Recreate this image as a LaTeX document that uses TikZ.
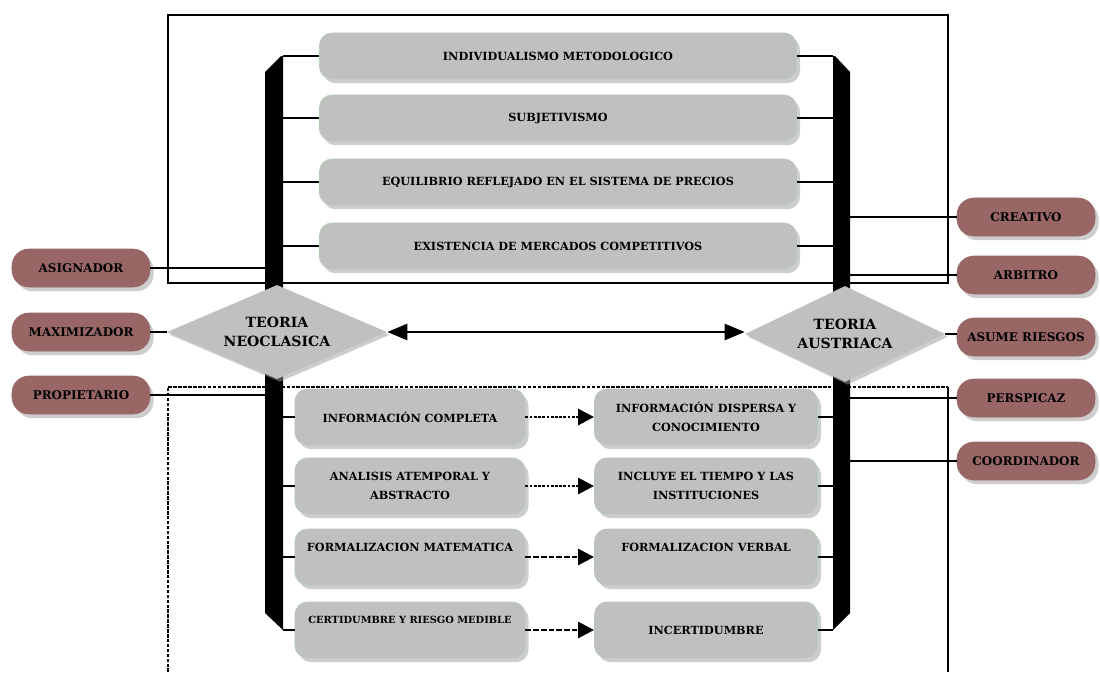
\documentclass[tikz,border=0pt]{standalone}
\usepackage{fontspec}
\setmainfont{DejaVu Serif}
\usetikzlibrary{arrows.meta, shapes.geometric, shadows}
\definecolor{boxgray}{HTML}{C0C0C0}
\definecolor{boxedge}{HTML}{B4CCB4}
\definecolor{pillred}{HTML}{996666}
\definecolor{shadowgray}{HTML}{9C9C9C}
\tikzset{
  softshadow/.style={drop shadow={shadow xshift=2.5pt, shadow yshift=-3pt, fill=shadowgray}},
  ideabox/.style={fill=boxgray, draw=boxedge, line width=0.6pt, rounded corners=9pt,
    align=center, softshadow, font=\fontsize{8}{14}\selectfont\bfseries},
  pill/.style={fill=pillred, draw=pillred, rounded corners=12pt, minimum width=3.45cm,
    minimum height=0.95cm, softshadow, font=\fontsize{8.5}{10}\selectfont\bfseries},
  theory/.style={diamond, aspect=2.3, inner sep=0pt, fill=boxgray, align=center,
    drop shadow={shadow xshift=2pt, shadow yshift=-2pt, fill=shadowgray},
    font=\fontsize{10}{13}\selectfont\bfseries},
  link/.style={line width=1.2pt},
  outline/.style={line width=1.7pt},
  dasharrow/.style={-{Triangle[length=4mm, width=4mm]}, line width=2pt, dash pattern=on 4pt off 1.5pt}
}
\newcommand{\rolepill}[4]{%
  \node[pill] (#1) at (#2,#3) {#4};}

\begin{document}
\begin{tikzpicture}[x=0.025cm, y=-0.025cm]
  \useasboundingbox (0,0) rectangle (1100,672);
  \draw[outline] (168,15) rectangle (948,283);
  \draw[outline, dash pattern=on 2.5pt off 1pt] (168,672) -- (168,387) -- (948,387);
  \draw[outline] (948,387) -- (948,672);
  \fill (265,72) -- (281,56) -- (283,56) -- (283,630) -- (265,613) -- cycle;
  \fill (833,56) -- (835,56) -- (850,72) -- (850,613) -- (833,630) -- cycle;
  \coordinate (lbar) at (283,0);
  \coordinate (lbarout) at (265,0);
  \coordinate (rbar) at (833,0);
  \coordinate (rbarout) at (850,0);

  \node[ideabox, minimum width=11.925cm, minimum height=1.15cm] (t1) at (558,56) {INDIVIDUALISMO METODOLOGICO};
  \node[ideabox, minimum width=11.925cm, minimum height=1.15cm] (t2) at (558,118) {SUBJETIVISMO};
  \node[ideabox, minimum width=11.925cm, minimum height=1.15cm] (t3) at (558,182) {EQUILIBRIO REFLEJADO EN EL SISTEMA DE PRECIOS};
  \node[ideabox, minimum width=11.925cm, minimum height=1.15cm] (t4) at (558,246) {EXISTENCIA DE MERCADOS COMPETITIVOS};

  \node[ideabox, minimum width=5.75cm, minimum height=1.4cm] (b1) at (410,417) {INFORMACIÓN COMPLETA};
  \node[ideabox, minimum width=5.75cm, minimum height=1.4cm] (b2) at (410,486) {ANALISIS ATEMPORAL Y\\ABSTRACTO};
  \node[ideabox, minimum width=5.75cm, minimum height=1.4cm] (b3) at (410,557) {FORMALIZACION MATEMATICA\\~};
  \node[ideabox, minimum width=5.75cm, minimum height=1.4cm, font=\fontsize{7}{14}\selectfont\bfseries] (b4) at (410,630) {CERTIDUMBRE Y RIESGO MEDIBLE\\~};
  \node[ideabox, minimum width=5.575cm, minimum height=1.4cm] (c1) at (706,417) {INFORMACIÓN DISPERSA Y\\CONOCIMIENTO};
  \node[ideabox, minimum width=5.575cm, minimum height=1.4cm] (c2) at (706,486) {INCLUYE EL TIEMPO Y LAS\\INSTITUCIONES};
  \node[ideabox, minimum width=5.575cm, minimum height=1.4cm] (c3) at (706,557) {FORMALIZACION VERBAL\\~};
  \node[ideabox, minimum width=5.575cm, minimum height=1.4cm] (c4) at (706,630) {INCERTIDUMBRE};

  \node[theory, minimum width=5.5cm, minimum height=2.35cm] (neo) at (277,332) {TEORIA\\NEOCLASICA};
  \node[theory, minimum width=5cm, minimum height=2.4cm] (aus) at (845,334) {TEORIA\\AUSTRIACA};

  \rolepill{asig}{81}{268}{ASIGNADOR}
  \rolepill{maxi}{81}{332}{MAXIMIZADOR}
  \rolepill{prop}{81}{395}{PROPIETARIO}
  \rolepill{crea}{1026}{217}{CREATIVO}
  \rolepill{arbi}{1026}{275}{ARBITRO}
  \rolepill{asume}{1026}{337}{ASUME RIESGOS}
  \rolepill{persp}{1026}{398}{PERSPICAZ}
  \rolepill{coord}{1026}{461}{COORDINADOR}

  \foreach \n in {t1,t2,t3,t4}
    \draw[link] (\n.west) -- (\n.west -| lbar) (\n.east) -- (\n.east -| rbar);
  \foreach \i in {1,2,3,4} {
    \draw[link] (b\i.west) -- (b\i.west -| lbar);
    \draw[link] (c\i.east) -- (c\i.east -| rbar);
  }
  \draw[dasharrow, dash pattern=on 2pt off 1pt] (b1.east) -- (c1.west);
  \draw[dasharrow, dash pattern=on 2pt off 1pt] (b2.east) -- (c2.west);
  \draw[dasharrow] (b3.east) -- (c3.west);
  \draw[dasharrow] (b4.east) -- (c4.west);
  \draw[{Triangle[length=5mm, width=4mm]}-{Triangle[length=5mm, width=4mm]}, line width=1.8pt]
    (neo.east) -- (neo.east -| aus.west);

  \draw[link] (asig) -- (asig -| lbarout);
  \draw[link] (maxi) -- (neo);
  \draw[link] (prop) -- (prop -| lbarout);
  \draw[link] (crea) -- (crea -| rbarout);
  \draw[link] (arbi) -- (arbi -| rbarout);
  \draw[link] (aus.east) -- (aus.east -| asume.west);
  \draw[link] (persp) -- (persp -| rbarout);
  \draw[link] (coord) -- (coord -| rbarout);
\end{tikzpicture}
\end{document}
